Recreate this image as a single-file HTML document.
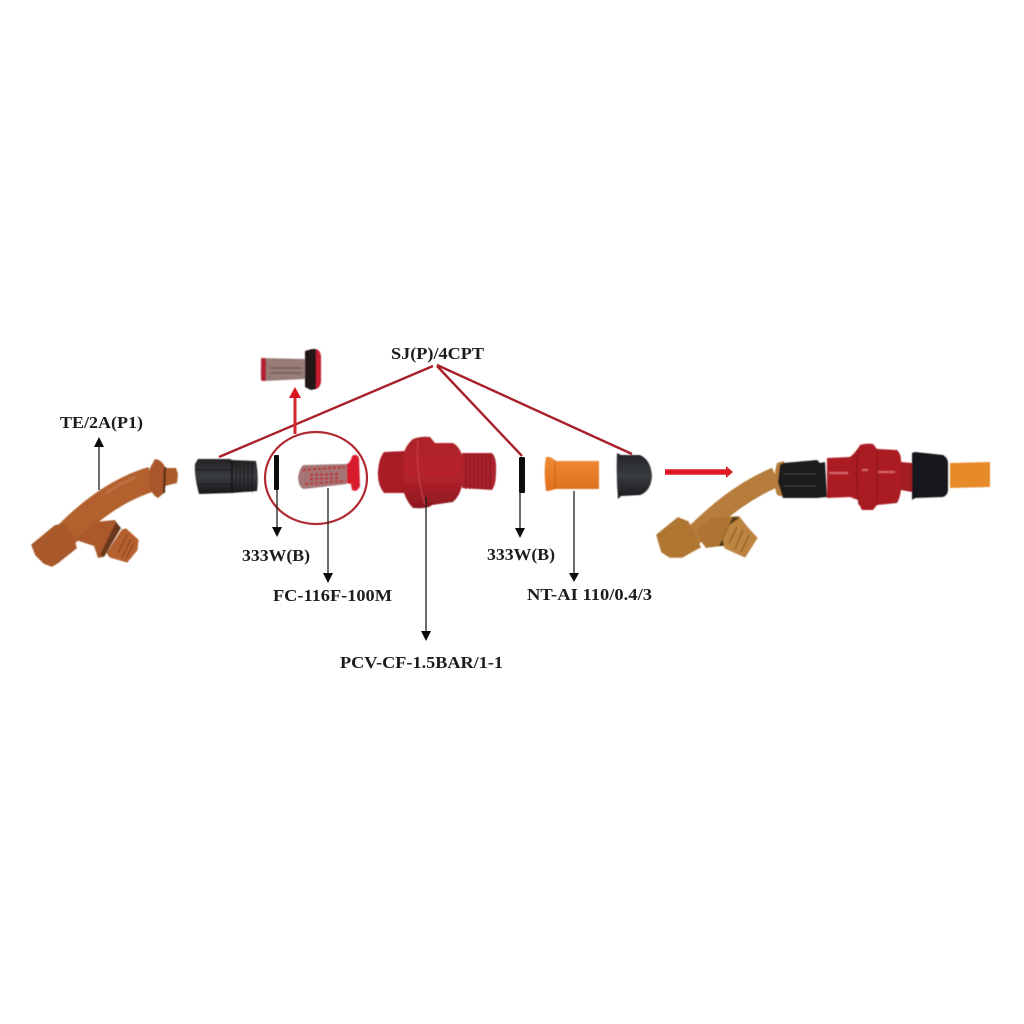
<!DOCTYPE html>
<html><head><meta charset="utf-8"><style>html,body{margin:0;padding:0;background:#fff}svg{display:block}text{font-family:"Liberation Serif",serif;font-weight:bold;font-size:17px;fill:#1c1c1c}</style></head><body>
<svg width="1024" height="1024" viewBox="0 0 1024 1024" xmlns="http://www.w3.org/2000/svg">
<defs>
<linearGradient id="bk" x1="0" y1="0" x2="0" y2="1"><stop offset="0" stop-color="#232426"/><stop offset=".5" stop-color="#3a3c3f"/><stop offset="1" stop-color="#17181a"/></linearGradient>
<linearGradient id="rd" x1="0" y1="0" x2="0" y2="1"><stop offset="0" stop-color="#ad2029"/><stop offset=".5" stop-color="#b8232c"/><stop offset="1" stop-color="#8e1821"/></linearGradient>
<linearGradient id="or" x1="0" y1="0" x2="0" y2="1"><stop offset="0" stop-color="#ee8a35"/><stop offset="1" stop-color="#df701e"/></linearGradient>
<filter id="s" x="-5%" y="-5%" width="110%" height="110%"><feGaussianBlur stdDeviation="0.6"/></filter>
</defs>
<rect width="1024" height="1024" fill="#fff"/>

<g filter="url(#s)">
<!-- Left elbow -->
<path d="M64 537 C85 515 115 490 152 479" stroke="#b2602f" stroke-width="25" fill="none"/>
<path d="M155 459 Q162 460 165 467 L164 493 L158 498 Q153 496 150 488 Q147 478 150 468Z" fill="#a9572a"/>
<path d="M165 468 L176 468 L178 474 L177 483 L165 486Z" fill="#ab5a2b"/>
<path d="M165 467 L164 493" stroke="#4c2a16" stroke-width="2"/>
<path d="M32 545 L55 526 L63 524 L72 534 L76 548 L57 563 L52 566 L44 563 L36 555Z" fill="#a9582c" stroke="#a9582c" stroke-width="1.5" stroke-linejoin="round"/>
<path d="M76 540 L95 522 L115 520 L120 529 L103 557 L98 558 L94 546Z" fill="#ab582b"/>
<path d="M116 522 L121 528 L104 557 L100 555Z" fill="#6b381c"/>
<path d="M122 530 L126 529 L138 540 L137 550 L127 562 L110 557 L107 553Z" fill="#b5602e" stroke="#b5602e" stroke-linejoin="round"/>
<path d="M127 535 L118 553M131 539 L122 557M134 543 L126 558" stroke="#8a4620" stroke-width="1.3"/>
<path d="M106 493 Q120 484 135 477" stroke="#c78257" stroke-width="3" fill="none" opacity=".5"/>

<!-- Black connector -->
<path d="M198 459 L231 459 L231 460 L256 461 Q259 476 257 491 L231 493 L199 494 Q194 476 195 464Z" fill="url(#bk)"/>
<path d="M232 460V493" stroke="#111" stroke-width="1.5"/>
<path d="M236 461V492M240 461V492M244 461V492M248 461V492M252 461V492" stroke="#1c1c1e" stroke-width="1.2"/>
<path d="M196 470H231M197 484H231" stroke="#18181a" stroke-width="1"/>

<!-- Filter in circle -->
<path d="M304 465 Q300 466 298 478 Q299 488 304 489 L347 484 L347 464Z" fill="#a57476"/>
<path d="M303 470 L345 467 M305 484 L345 481 M310 475 L340 474 M310 479 L340 478" stroke="#b83a3f" stroke-width="2.5" stroke-dasharray="3 2" fill="none"/>
<path d="M347 464 Q351 462 352 456 Q357 453 359 458 L360 486 Q357 493 352 490 L351 484 L347 483Z" fill="#d71f2e"/>

<!-- Filter top -->
<path d="M261 358 L305 359 L305 379 L264 381 Q260 380 261 372Z" fill="#987c78"/>
<rect x="261" y="358" width="5" height="23" rx="2" fill="#b22432"/>
<path d="M270 368 H302 M270 373 H302" stroke="#72605c" stroke-width="1.5"/>
<path d="M305 351 L312 349 L316 349 L316 389 L311 390 L305 387Z" fill="#241317"/>
<path d="M316 349 Q320 350 321 356 V382 Q320 388 316 389Z" fill="#c31f2f"/>

<!-- Red valve -->
<path d="M384 452 L406 451 L406 493 L384 493 Q377 484 378 471 Q379 458 384 452Z" fill="#a81c25"/>
<path d="M404 452 Q407 444 413 439 Q421 436 430 437 L435 443 L453 443 Q459 446 462 455 L462 485 Q460 496 453 502 L432 505 Q428 509 413 508 Q407 502 404 493Z" fill="url(#rd)"/>
<path d="M462 453 L492 453 Q497 458 496 472 Q496 485 492 490 L462 488Z" fill="#ab232d"/>
<path d="M466 454V489M470 454V489M474 454V489M478 454V489M482 454V489M486 454V489M490 454V489" stroke="#8a1720" stroke-width="1.3"/>
<path d="M418 440 Q415 470 425 505" stroke="#c8434a" stroke-width="1" fill="none"/>

<!-- Orange nozzle -->
<path d="M546 457 Q552 456 555 461 L599 461 L599 489 L555 489 Q551 491 546 491 Q544 475 545 464Z" fill="url(#or)"/>
<path d="M555 460V489" stroke="#c95f14" stroke-width="1"/>

<!-- Black cap -->
<path d="M617 453 L621 455 L640 455 Q651 460 652 476 Q651 491 640 495 L621 496 L618 499 Q616 476 617 453Z" fill="url(#bk)"/>

<!-- Right assembly -->
<path d="M692 537 C715 515 740 492 776 477" stroke="#b57c3a" stroke-width="20" fill="none"/>
<path d="M777 463 L784 461 L784 497 L777 495 Q772 480 777 463Z" fill="#b57c3a"/>
<path d="M657 535 L678 518 L688 522 L700 547 L682 557 L670 557 L662 552Z" fill="#af7633" stroke="#af7633" stroke-width="1.5" stroke-linejoin="round"/>
<path d="M697 530 L712 518 L740 516 L722 546 L713 547 L706 548 L700 540Z" fill="#ae7432"/>
<path d="M733 517 L741 518 L724 546 L719 546Z" fill="#4a3519"/>
<path d="M740 518 L747 527 L757 538 L745 557 L725 548 L723 540 L730 525Z" fill="#bc843f" stroke="#bc843f" stroke-linejoin="round"/>
<path d="M737 527L729 543M743 530L735 549M749 535L741 552" stroke="#916025" stroke-width="1.3"/>
<path d="M780 465 L783 463 L817 460 L820 463 L825 462 L827 497 L817 498 L783 498 L778 482Z" fill="#1c1c1e"/>
<path d="M783 474H816M783 486H816" stroke="#3a3a3b" stroke-width="1.5"/>
<path d="M827 458 L850 457 Q856 452 860 445 Q866 443 873 444 L877 449 L897 450 Q901 454 901 460 L901 490 Q900 498 897 503 L877 505 L873 510 L862 510 Q859 505 858 500 L850 497 L827 498Z" fill="#ab1d24"/>
<path d="M901 462 L912 463 L912 492 L901 490Z" fill="#a21c23"/>
<path d="M912 453 L915 452 L943 455 Q948 458 948 463 L948 490 Q948 495 943 497 L915 498 L912 500Z" fill="#17171a"/>
<path d="M950 463 L990 462 L990 487 L950 488Z" fill="#e78a2c"/>
<path d="M829 473H848M862 470H868M878 472H895" stroke="#d9656b" stroke-width="2"/>
<path d="M858 450 Q855 478 859 505M877 449V505" stroke="#7f1218" stroke-width="1" fill="none"/>
</g>

<!-- Small seals -->
<rect x="274" y="455" width="5" height="35" rx="1" fill="#0c0c0c"/>
<rect x="519" y="457" width="6" height="36" rx="1" fill="#0c0c0c"/>

<!-- Red lines -->
<g stroke="#a8202a" stroke-width="2.4" fill="none">
<path d="M219 457 L433 366"/>
<path d="M437 366 L522 456"/>
<path d="M437 365 L632 454"/>
</g>
<ellipse cx="316" cy="478" rx="51" ry="46" fill="none" stroke="#b02a30" stroke-width="2.2"/>
<path d="M295 434 V396" stroke="#d8262e" stroke-width="3"/>
<path d="M289 398 L295 387 L301 398Z" fill="#d8161f"/>
<path d="M665 472 H727" stroke="#dd1a24" stroke-width="5.5"/>
<path d="M726 466 L733 472 L726 478Z" fill="#dd1a24"/>

<!-- Black arrows -->
<g stroke="#1e1e1e" stroke-width="1.3" fill="none">
<path d="M99 490 V444"/><path d="M277 490 V528"/><path d="M328 488 V573"/>
<path d="M426 497 V632"/><path d="M520 492 V529"/><path d="M574 491 V573"/>
</g>
<g fill="#0c0c0c">
<path d="M94 447 L99 437 L104 447Z"/>
<path d="M272 527 L277 537 L282 527Z"/>
<path d="M323 573 L328 583 L333 573Z"/>
<path d="M421 631 L426 641 L431 631Z"/>
<path d="M515 528 L520 538 L525 528Z"/>
<path d="M569 573 L574 582 L579 573Z"/>
</g>

<!-- Labels -->
<text x="391" y="359" textLength="93" lengthAdjust="spacingAndGlyphs">SJ(P)/4CPT</text>
<text x="60" y="428" textLength="83" lengthAdjust="spacingAndGlyphs">TE/2A(P1)</text>
<text x="242" y="561" textLength="68" lengthAdjust="spacingAndGlyphs">333W(B)</text>
<text x="273" y="601" textLength="119" lengthAdjust="spacingAndGlyphs">FC-116F-100M</text>
<text x="340" y="668" textLength="163" lengthAdjust="spacingAndGlyphs">PCV-CF-1.5BAR/1-1</text>
<text x="487" y="560" textLength="68" lengthAdjust="spacingAndGlyphs">333W(B)</text>
<text x="527" y="600" textLength="125" lengthAdjust="spacingAndGlyphs">NT-AI 110/0.4/3</text>
</svg>
</body></html>
